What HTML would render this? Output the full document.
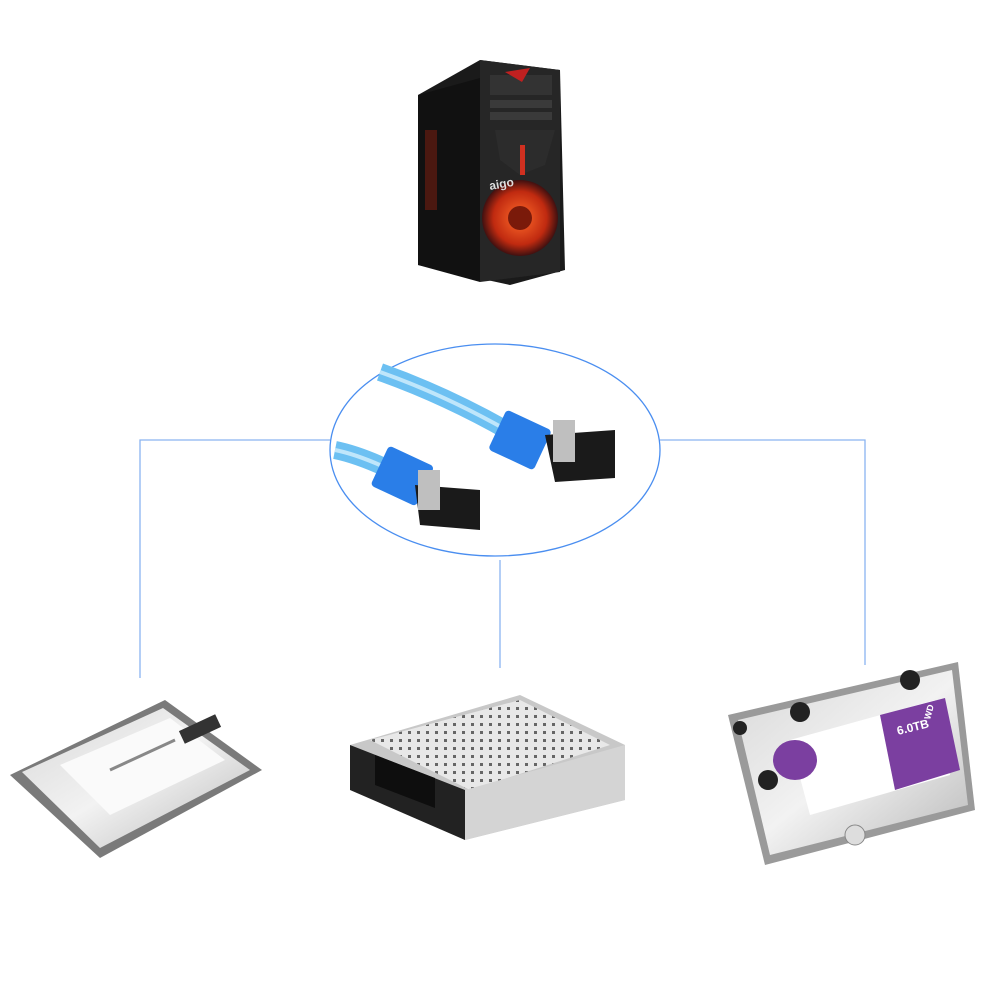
<!DOCTYPE html>
<html><head><meta charset="utf-8"><style>
html,body{margin:0;padding:0;background:#fff;width:1000px;height:1000px;overflow:hidden}
svg{display:block}
text{font-family:"Liberation Sans",sans-serif}
</style></head><body>
<svg width="1000" height="1000" viewBox="0 0 1000 1000">
<defs>
<linearGradient id="metal" x1="0" y1="0" x2="1" y2="1"><stop offset="0" stop-color="#d8d8d8"/><stop offset="0.5" stop-color="#f2f2f2"/><stop offset="1" stop-color="#b8b8b8"/></linearGradient>
<radialGradient id="fan" cx="0.5" cy="0.5" r="0.5"><stop offset="0" stop-color="#ff6a2a"/><stop offset="0.7" stop-color="#c02a10"/><stop offset="1" stop-color="#401010"/></radialGradient>
<pattern id="holes" width="9" height="8" patternUnits="userSpaceOnUse"><rect width="9" height="8" fill="#e8e8e8"/><rect x="3" y="3" width="3" height="3" fill="#666"/></pattern>
</defs>
<!-- PC tower -->
<polygon points="418,95 480,60 560,70 565,270 510,285 418,265" fill="#1a1a1a"/>
<polygon points="480,60 560,70 560,272 480,282" fill="#262626"/>
<polygon points="418,95 480,78 480,282 418,265" fill="#111"/>
<rect x="490" y="75" width="62" height="20" fill="#333"/>
<polygon points="505,72 530,68 522,82" fill="#c02020"/>
<rect x="490" y="100" width="62" height="8" fill="#3a3a3a"/>
<rect x="490" y="112" width="62" height="8" fill="#3a3a3a"/>
<polygon points="495,130 555,130 545,165 520,175 500,160" fill="#2c2c2c"/>
<rect x="520" y="145" width="5" height="30" fill="#d03020"/>
<circle cx="520" cy="218" r="38" fill="url(#fan)"/>
<circle cx="520" cy="218" r="12" fill="#7a1a0a"/>
<rect x="425" y="130" width="12" height="80" fill="#5a1a10" opacity="0.8"/>
<text x="490" y="190" font-size="12" fill="#ddd" font-weight="bold" transform="rotate(-10 490 190)">aigo</text>
<!-- ellipse & connectors -->
<ellipse cx="495" cy="450" rx="165" ry="106" fill="none" stroke="#4a8ef0" stroke-width="1.3"/>
<polyline points="330,440 140,440 140,678" fill="none" stroke="#8ab4f0" stroke-width="1.3"/>
<polyline points="660,440 865,440 865,665" fill="none" stroke="#8ab4f0" stroke-width="1.3"/>
<line x1="500" y1="560" x2="500" y2="668" stroke="#8ab4f0" stroke-width="1.3"/>
<!-- cable -->
<path d="M380,372 Q445,395 510,432" stroke="#6cc0f2" stroke-width="18" fill="none"/>
<path d="M380,372 Q445,395 510,432" stroke="#bfe6fb" stroke-width="4" fill="none"/>
<path d="M335,450 Q360,455 395,472" stroke="#6cc0f2" stroke-width="18" fill="none"/>
<path d="M335,450 Q360,455 395,472" stroke="#bfe6fb" stroke-width="4" fill="none"/>
<g transform="rotate(25 520 440)"><rect x="495" y="418" width="50" height="44" rx="4" fill="#2a7ee8"/></g>
<polygon points="545,435 615,430 615,478 555,482" fill="#1a1a1a"/>
<rect x="553" y="420" width="22" height="42" fill="#bfbfbf"/>
<g transform="rotate(25 405 475)"><rect x="378" y="455" width="50" height="44" rx="4" fill="#2a7ee8"/></g>
<polygon points="415,485 480,490 480,530 420,525" fill="#1a1a1a"/>
<rect x="418" y="470" width="22" height="40" fill="#bfbfbf"/>
<!-- SSD -->
<polygon points="10,775 165,700 262,770 100,858" fill="#7a7a7a"/>
<polygon points="22,772 163,708 250,770 100,848" fill="url(#metal)"/>
<polygon points="60,765 170,718 225,760 110,815" fill="#fafafa"/>
<rect x="180" y="722" width="40" height="14" fill="#333" transform="rotate(-25 200 729)"/>
<line x1="110" y1="770" x2="175" y2="740" stroke="#888" stroke-width="3"/>
<!-- Enclosure -->
<polygon points="350,745 520,695 625,745 625,800 465,840 350,780" fill="#c8c8c8"/>
<polygon points="370,740 520,700 610,745 470,790" fill="url(#holes)"/>
<polygon points="465,790 625,745 625,800 465,840" fill="#d4d4d4"/>
<polygon points="350,745 465,790 465,840 350,790" fill="#222"/>
<polygon points="375,755 435,778 435,808 375,785" fill="#0e0e0e"/>
<!-- HDD -->
<polygon points="728,715 958,662 975,810 765,865" fill="#9a9a9a"/>
<polygon points="738,720 952,670 968,805 770,855" fill="url(#metal)"/>
<polygon points="790,740 935,700 950,775 810,815" fill="#fff"/>
<polygon points="880,715 945,698 960,770 895,790" fill="#7b3fa0"/>
<text x="898" y="735" font-size="12" fill="#fff" font-weight="bold" transform="rotate(-14 898 735)">6.0TB</text>
<text x="930" y="720" font-size="9" fill="#fff" font-weight="bold" transform="rotate(-75 930 720)">WD</text>
<ellipse cx="795" cy="760" rx="22" ry="20" fill="#7b3fa0"/>
<circle cx="740" cy="728" r="7" fill="#222"/><circle cx="800" cy="712" r="10" fill="#222"/>
<circle cx="910" cy="680" r="10" fill="#222"/><circle cx="768" cy="780" r="10" fill="#222"/>
<circle cx="855" cy="835" r="10" fill="#ddd" stroke="#888"/>
</svg>
</body></html>
